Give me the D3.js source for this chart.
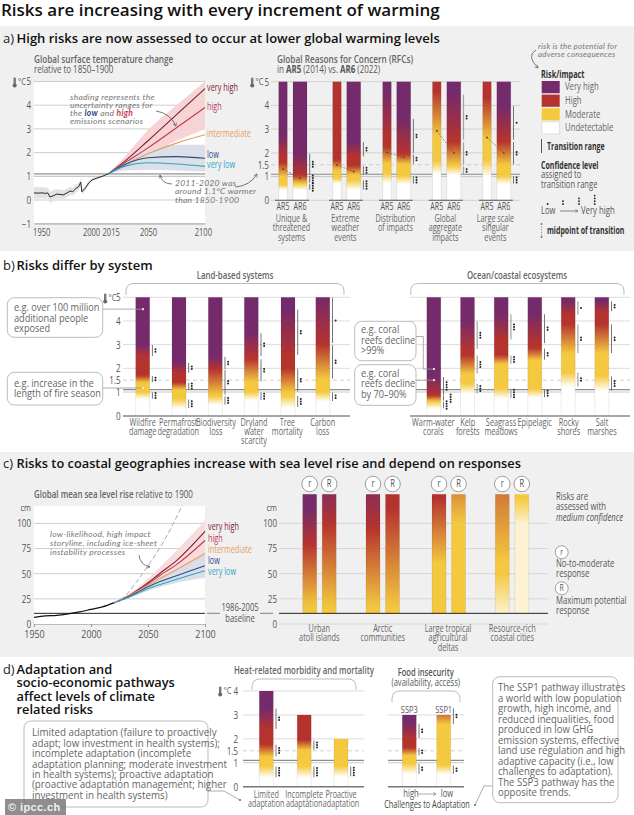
<!DOCTYPE html>
<html><head><meta charset="utf-8">
<script src="https://cdn.jsdelivr.net/npm/d3@7/dist/d3.min.js"></script>
<style>
html,body{margin:0;padding:0;background:#fff}
svg{display:block}
text{font-family:"Open Sans",sans-serif;fill:#555}
.head{font-family:"Open Sans",sans-serif;fill:#111;font-weight:600}
.hand{font-family:"Lato",sans-serif;font-style:italic;fill:#777;letter-spacing:.25px}
.tick text{font-size:10.5px;fill:#555}
</style></head><body>
<svg id="c" width="634" height="815" viewBox="0 0 634 815"></svg>
<script>
/* ---------- DATA (°C or cm; [low, high, confidence dots]) ---------- */
const riskLevels=["Very high","High","Moderate","Undetectable"];
const tempYears=[1950,1953,1957,1960,1962,1964,1967,1970,1973,1976,1979,1982,1984,1987,1989,1991,1992,1995,1998,2001,2005,2010,2015];
const tempHist=[.3,.29,.3,.28,.3,.13,.18,.25,.23,.22,.3,.38,.35,.5,.55,.75,.35,.5,.72,.85,.92,1.0,1.1];
const tempHistLow=[.05,.05,.07,.05,.07,-.12,-.05,.05,.05,.05,.12,.2,.2,.33,.4,.6,.25,.4,.62,.78,.87,.97,1.1];
const tempHistHigh=[.55,.55,.55,.52,.53,.37,.42,.45,.42,.42,.48,.56,.52,.67,.7,.88,.47,.6,.8,.92,.97,1.03,1.1];
const projYears=[2015,2030,2050,2075,2100];
const tempVeryHigh=[1.1,1.65,2.5,3.6,4.7];
const tempHigh=[1.1,1.58,2.2,3.05,3.9];
const tempInter=[1.1,1.5,1.95,2.4,2.75];
const tempLow=[1.1,1.5,1.78,1.83,1.76];
const tempVeryLow=[1.1,1.43,1.57,1.52,1.42];
const tempPinkUp=[1.1,1.85,2.95,4.0,5.0];
const tempPinkLow=[1.1,1.42,1.9,2.5,3.0];
const tempBlueUp=[1.1,1.6,2.05,2.33,2.33];
const tempBlueLow=[1.1,1.25,1.28,1.25,1.2];

const seaYears=[1950,1960,1970,1980,1990,2000,2010,2020];
const seaHist=[6.5,8,8.5,10,12,14.5,17,21];
const seaProjYears=[2020,2030,2040,2050,2060,2075,2100];
const seaVeryHigh=[21,26,33,41,50,63,92];
const seaHigh=[21,26,32.5,40,48,59,83];
const seaInter=[21,26,32,38.5,45,54,70];
const seaLow=[21,25.5,31,37,42,48,58];
const seaVeryLow=[21,25,30,35,39,44.5,53];
const seaPinkUp=[21,27,35,45,56,73,103];
const seaPinkLow=[21,25.5,31,37.5,43,51,65];
const seaBlueUp=[21,26,32,39,46,55,70];
const seaBlueLow=[21,24.5,28.5,33,36.5,41,46];
const stormYears=[2020,2030,2040,2050,2060,2070,2080];
const stormValues=[21,28,42,58,75,95,118];

const rfcNames=["Unique & threatened systems","Extreme weather events","Distribution of impacts","Global aggregate impacts","Large scale singular events"];
const rfcAR5=[
 [[.45,.65],[1.0,1.6],[1.9,2.7]],
 [[.72,.93],[1.28,1.7],null],
 [[.72,1.14],[1.55,2.25],[2.7,4.6]],
 [[1.1,1.65],[2.7,4.6],null],
 [[1.0,1.7],[2.55,4.3],null]];
const rfcAR6=[
 [[.43,.7,4],[.72,1.05,4],[1.07,1.98,3]],
 [[.43,.86,4],[1.07,1.46,3],[1.84,2.47,2]],
 [[.69,1.03,3],[1.53,1.95,2],[1.98,3.45,2]],
 [[1.07,1.45,2],[1.49,2.47,2],[2.54,4.47,2]],
 [[.69,1.03,3],[1.49,2.47,2],[2.54,3.99,1]]];
const rfcMidAR5=[1.32,1.49,2.02,2.93,2.65];
const rfcMidAR6=[.93,1.21,1.81,2.0,2.0];

const landNames=["Wildfire damage","Permafrost degradation","Biodiversity loss","Dryland water scarcity","Tree mortality","Carbon loss"];
const landRisks=[
 [[.7,1.0,3],[1.4,1.7,2],[2.5,3.0,2]],
 [[.3,.7,3],[1.1,1.4,3],[1.8,2.25,2]],
 [[.45,.83,3],[.87,1.95,2],[1.95,2.5,2]],
 [[.65,1.0,3],[1.43,2.4,2],[2.5,3.5,2]],
 [[.35,.85,3],[1.0,2.0,2],[2.55,4.5,2]],
 [[.6,1.0,2],[1.55,3.0,2],[3.05,5,1]]];
const oceanNames=["Warm-water corals","Kelp forests","Seagrass meadows","Epipelagic","Rocky shores","Salt marshes"];
const oceanRisks=[
 [[.3,.6,4],[.62,.85,4],[.85,1.65,4]],
 [[.92,1.37,3],[1.76,2.56,3],[2.8,4,3]],
 [[.73,1.15,4],[2.18,2.56,3],[3.2,4.3,3]],
 [[.76,1.13,3],[2.35,2.85,2],[3.05,4.3,2]],
 [[1.22,1.83,2],[2.63,3.87,2],[4.25,4.85,1]],
 [[1.04,1.68,3],[2.63,3.87,2],[4.4,4.85,2]]];
const calloutValues=[4.5,1.17,1.97,1.5];

const coastNames=["Urban atoll islands","Arctic communities","Large tropical agricultural deltas","Resource-rich coastal cities"];
const coastResponses=["r","R"];
/* [cm, risk level 0=undetectable ... 3=very high] */
const coastStops=[
 [[[12,1],[20,1.05],[80,2],[115,3]],[[12,1],[20,1.05],[100,2],[145,3]]],
 [[[12,1],[20,1.05],[95,2],[150,3]],[[12,1],[20,1.05],[115,2]]],
 [[[12,1],[60,1],[125,2]],[[12,1],[100,1],[175,2]]],
 [[[10,.25],[50,1],[60,1],[190,2]],[[10,.22],[100,.25],[125,1]]]];

const heatNames=["Limited adaptation","Incomplete adaptation","Proactive adaptation"];
const heatTops=[4,3,2];
const heatRisks=[
 [[.38,.86,4],[1.25,1.77,3],[2.4,3.28,2]],
 [[.38,.86,4],[1.53,1.95,3],null],
 [[.42,.86,4],null,null]];
const foodNames=["SSP3","SSP1"];
const foodTops=[3,3];
const foodRisks=[
 [[.52,.98,2],[1.3,1.63,2],[2.02,2.65,2]],
 [[.52,.9,2],[2.6,3.3,2],null]];
const paleRangeSystems=["Global aggregate impacts","Kelp forests","Seagrass meadows","Rocky shores"];

/* ---------- SCAFFOLD ---------- */
const svg=d3.select("#c");
const defs=svg.append("defs");
defs.append("marker").attr("id","arr").attr("viewBox","0 0 8 8").attr("refX",6).attr("refY",4)
 .attr("markerWidth",6).attr("markerHeight",6).attr("orient","auto")
 .append("path").attr("d","M1,1L6,4L1,7").attr("fill","none").attr("stroke","#555").attr("stroke-width",1);
const riskColor=d3.scaleLinear().domain([0,1,2,3]).range(["#ffffff","#f4c93f","#b5332e","#752a6b"]);
let gid=0;

function txt(g,x,y,lines,o={}){
 const isFull=o.cl==="head"||o.cl==="hand";
 const k=o.k||(isFull?1:(o.w?.73:.76));
 const size=o.s||(o.cl==="hand"?8.5:10.2);
 const t=g.append("text").attr("x",x).attr("y",y).attr("text-anchor",o.a||"start")
  .style("font-size",size+"px");
 if(k!==1)t.attr("transform",`translate(${x},0) scale(${k},1) translate(${-x},0)`);
 if(o.cl)t.attr("class",o.cl);
 if(o.fill)t.style("fill",o.fill);
 if(o.w)t.style("font-weight",o.w);
 if(o.i)t.style("font-style","italic");
 if(o.ff)t.style("font-family",o.ff);
 [].concat(lines).forEach((l,i)=>t.append("tspan").attr("x",x).attr("dy",i?(o.lh||9.5):0).text(l));
 return t;
}
const squeeze=(sel,k)=>sel.selectAll("text").attr("transform",`scale(${k||.77},1)`);
function grid(g,y,x0,x1,vals,col){
 g.selectAll(null).data(vals).join("line").attr("x1",x0).attr("x2",x1)
  .attr("y1",d=>y(d)).attr("y2",d=>y(d)).attr("stroke",col||"#cfcfcf").attr("stroke-width",1);
}
function refLines(g,y,x0,x1){
 g.append("line").attr("x1",x0).attr("x2",x1).attr("y1",y(1.5)).attr("y2",y(1.5))
  .attr("stroke","#c6c6c6").attr("stroke-width",.8).attr("stroke-dasharray","4 3");
 g.append("line").attr("x1",x0).attr("x2",x1).attr("y1",y(1.1)).attr("y2",y(1.1))
  .attr("stroke","#8d8d8d").attr("stroke-width",1.1);
 g.append("line").attr("x1",x0).attr("x2",x1).attr("y1",y(1)).attr("y2",y(1))
  .attr("stroke","#bdbdbd").attr("stroke-width",.8);
}
function yAxis(g,y,xp,vals){
 const a=g.append("g").attr("transform",`translate(${xp},0)`)
  .call(d3.axisLeft(y).tickValues(vals).tickSize(0).tickPadding(0).tickFormat(d=>String(d).replace("-","−")));
 a.select(".domain").remove();
 squeeze(a);
 return a;
}
function thermo(g,x,yy){
 g.append("rect").attr("x",x).attr("y",yy-4.5).attr("width",2.4).attr("height",7).attr("rx",1.1).attr("fill","#777");
 g.append("circle").attr("cx",x+1.2).attr("cy",yy+3.4).attr("r",2).attr("fill","#666");
 txt(g,x+4.5,yy+3.5,"°C",{s:9.8});
}
function stopsFromRanges(r){
 const s=[];
 r.forEach((t,i)=>{if(t){s.push([t[0],i],[t[1],i+1]);}});
 return s;
}
function riskBar(g,cx,w,y,bottom,top,stops){
 const id="g"+(gid++);
 const lvl=d3.scaleLinear().domain(stops.map(d=>d[0])).range(stops.map(d=>d[1])).clamp(true);
 const gr=defs.append("linearGradient").attr("id",id).attr("gradientUnits","userSpaceOnUse")
  .attr("x1",0).attr("x2",0).attr("y1",y(bottom)).attr("y2",y(top));
 d3.range(0,1.0001,1/60).forEach(t=>{
  gr.append("stop").attr("offset",t).attr("stop-color",riskColor(lvl(bottom+(top-bottom)*t)));
 });
 g.append("rect").attr("x",cx-w/2).attr("width",w).attr("y",y(top)).attr("height",y(bottom)-y(top))
  .attr("fill",`url(#${id})`);
 [cx-w/2,cx+w/2].forEach(x=>g.append("line").attr("x1",x).attr("x2",x).attr("y1",y(top)).attr("y2",y(bottom))
  .attr("stroke","#000").attr("stroke-opacity",.13).attr("stroke-width",.6));
}
function confRanges(g,xr,y,ranges,shift,pale){
 ranges.forEach((t,i)=>{
  if(!t||!t[2])return;
  const sx=shift?shift[i]:0;
  g.append("line").attr("x1",xr+2.7).attr("x2",xr+2.7).attr("y1",y(t[1])+.4).attr("y2",y(t[0])-.4)
   .attr("stroke",pale?"#a4a4a4":"#666").attr("stroke-width",pale?1.2:.9);
  const my=y((t[0]+t[1])/2);
  d3.range(t[2]).forEach(k=>g.append("circle").attr("cx",xr+5.8+sx).attr("cy",my+(k-(t[2]-1)/2)*2.5)
   .attr("r",1).attr("fill","#222"));
 });
}
function bracket(g,x0,x1,yt,yb){
 g.append("path").attr("d",`M${x0},${yb}V${yt+8}Q${x0},${yt} ${x0+8},${yt}H${x1-8}Q${x1},${yt} ${x1},${yt+8}V${yb}`)
  .attr("fill","none").attr("stroke","#aaa").attr("stroke-width",.8);
}
function box(g,x,y,w,h,lines,tx,ty,lh,k){
 const b=g.append("g").attr("class","box");
 b.append("rect").attr("x",x).attr("y",y).attr("width",w).attr("height",h).attr("rx",7)
  .attr("fill","#fff").attr("stroke","#aaa").attr("stroke-width",.8);
 txt(b,tx,ty,lines,{s:10.4,lh:lh||10.5,k:k||.88,fill:"#666"});
}
function arrowPath(g,d){
 g.append("path").attr("d",d).attr("fill","none").attr("stroke","#555").attr("stroke-width",.8).attr("marker-end","url(#arr)");
}

/* ---------- BACKGROUND & HEADINGS ---------- */
svg.append("rect").attr("x",0).attr("y",26).attr("width",634).attr("height",225).attr("fill","#f0f0f0");
svg.append("rect").attr("x",0).attr("y",452).attr("width",634).attr("height",205).attr("fill","#f0f0f0");
txt(svg,1,15.5,"Risks are increasing with every increment of warming",{cl:"head",s:17});
function head(y,tag,lines,s){
 txt(svg,3,y,tag,{s:s,k:1,fill:"#222"});
 return txt(svg,16.5,y,lines,{cl:"head",s:s,lh:13.3});
}
head(43,"a)","High risks are now assessed to occur at lower global warming levels",13);
head(270,"b)","Risks differ by system",13);
head(468,"c)","Risks to coastal geographies increase with sea level rise and depend on responses",12.8);
head(674,"d)",["Adaptation and","socio-economic pathways","affect levels of climate","related risks"],12.8);

/* ---------- a) temperature ---------- */
const A=svg.append("g");
A.append("rect").attr("x",34).attr("y",81.5).attr("width",171).attr("height",142).attr("fill","#fff");
const yT=d3.scaleLinear().domain([0,5]).range([200,81.5]);
const xT=d3.scaleLinear().domain([1950,2100]).range([34,205]);
grid(A,yT,34,205,[-1,0,2,3,4,5]);
const tArea=(lo,hi,xs)=>d3.area().x((d,i)=>xT(xs[i])).y0((d,i)=>yT(lo[i])).y1((d,i)=>yT(hi[i])).curve(d3.curveMonotoneX)(xs);
A.append("path").attr("d",tArea(tempHistLow,tempHistHigh,tempYears)).attr("fill","#e3e3e3");
A.append("path").attr("d",tArea(tempPinkLow,tempPinkUp,projYears)).attr("fill","#f6d3d5");
A.append("path").attr("d",tArea(tempBlueLow,tempBlueUp,projYears)).attr("fill","#dadfe8");
A.append("line").attr("x1",34).attr("x2",205).attr("y1",yT(1.1)).attr("y2",yT(1.1)).attr("stroke","#777").attr("stroke-width",1);
A.append("line").attr("x1",34).attr("x2",205).attr("y1",yT(1)).attr("y2",yT(1)).attr("stroke","#aaa").attr("stroke-width",.8);
const tLine=d3.line().x((d,i)=>xT(projYears[i])).y(d=>yT(d)).curve(d3.curveMonotoneX);
const scenarioNames=["very high","high","intermediate","low","very low"];
const scenarioColors=["#7b2132","#c23a50","#e3a062","#2f4a7f","#2fa4c4"];
[tempVeryHigh,tempHigh,tempInter,tempLow,tempVeryLow].forEach((s,i)=>
 A.append("path").attr("d",tLine(s)).attr("fill","none").attr("stroke",scenarioColors[i]).attr("stroke-width",1.1));
A.append("path").attr("d",d3.line().x((d,i)=>xT(tempYears[i])).y(d=>yT(d))(tempHist)).attr("fill","none").attr("stroke","#111").attr("stroke-width",.9);
yAxis(A,yT,31,[-1,0,1,2,3,4,5]);
thermo(A,13.5,82);
const xa=A.append("g").attr("transform","translate(0,223.5)").call(d3.axisBottom(xT).tickValues([1950,2000,2015,2050,2100]).tickSize(0).tickPadding(5).tickFormat(d3.format("d")));
xa.select(".domain").attr("stroke","#aaa");
squeeze(xa,.72);
xa.selectAll("text").attr("dx",d=>d===1950?10:d===2100?-3:d===2015?3.5:0);
[88,107,134.5,155.5,165].forEach((yy,i)=>txt(A,207,yy+3,scenarioNames[i],{s:10,fill:scenarioColors[i],k:.73}));
txt(A,34,63,"Global surface temperature change",{s:10.2,w:600,fill:"#666",k:.8});
txt(A,34,73.5,"relative to 1850–1900",{s:10.2,k:.78});
txt(A,70,100,["shading represents the","uncertainty ranges for"],{cl:"hand",lh:8.1});
const sh2=A.append("text").attr("class","hand").attr("x",70).attr("y",116).style("font-size","8.5px");
sh2.append("tspan").text("the ");
sh2.append("tspan").text("low").style("fill","#2f4a7f").style("font-weight",700);
sh2.append("tspan").text(" and ");
sh2.append("tspan").text("high").style("fill","#c23a50").style("font-weight",700);
txt(A,70,124,"emissions scenarios",{cl:"hand"});
arrowPath(A,"M156,111Q170,113 176,126");
txt(A,175,186,["2011-2020 was","around 1.1°C warmer","than 1850-1900"],{cl:"hand",lh:8.4});
arrowPath(A,"M172,184Q162,184 160,175");
arrowPath(A,"M235,187Q250,186 257,174");

/* ---------- a) RFCs ---------- */
const R=svg.append("g");
const yR=d3.scaleLinear().domain([0,5]).range([200.3,81.7]);
grid(R,yR,271,520,[0,2,3,4,5],"#d2d2d2");
refLines(R,yR,271,520);
yAxis(R,yR,269,[0,1,1.5,2,3,4,5]);
thermo(R,251,82);
const xAR5=d3.scaleOrdinal().domain(rfcNames).range([283,337,387,436.8,487]);
const xAR6=d3.scaleOrdinal().domain(rfcNames).range([300,353.7,403.7,453.8,503.8]);
const rfcLines=[["Unique &","threatened","systems"],["Extreme","weather","events"],["Distribution","of impacts"],["Global","aggregate","impacts"],["Large scale","singular","events"]];
rfcNames.forEach((n,i)=>{
 riskBar(R,xAR5(n),8.6,yR,0,5,stopsFromRanges(rfcAR5[i]));
 riskBar(R,xAR6(n),14,yR,0,5,stopsFromRanges(rfcAR6[i]));
 R.append("line").attr("x1",xAR5(n)-8).attr("x2",xAR6(n)+9).attr("y1",yR(0)).attr("y2",yR(0)).attr("stroke","#555").attr("stroke-width",1.1);
 confRanges(R,xAR6(n)+7,yR,rfcAR6[i],null,paleRangeSystems.includes(n));
 R.append("line").attr("x1",xAR5(n)).attr("x2",xAR6(n)).attr("y1",yR(rfcMidAR5[i])).attr("y2",yR(rfcMidAR6[i]))
  .attr("stroke","#6a4a3a").attr("stroke-width",.6).attr("stroke-dasharray","2 1.4");
 [[xAR5(n),rfcMidAR5[i]],[xAR6(n),rfcMidAR6[i]]].forEach(p=>R.append("circle").attr("cx",p[0]).attr("cy",yR(p[1])).attr("r",1).attr("fill","#6a4a3a"));
 txt(R,xAR5(n),210.5,"AR5",{a:"middle",s:10.2,k:.7});
 txt(R,xAR6(n),210.5,"AR6",{a:"middle",s:10.2,k:.7});
 txt(R,(xAR5(n)+xAR6(n))/2,222,rfcLines[i],{a:"middle",s:10,lh:9.5,fill:"#666",k:.72});
});
txt(R,277,63,"Global Reasons for Concern (RFCs)",{s:10.2,w:600,fill:"#666",k:.81});
const rft=R.append("text").attr("x",277).attr("y",73.5).style("font-size","10.2px").attr("transform","translate(277,0) scale(.78,1) translate(-277,0)");
rft.append("tspan").text("in ");rft.append("tspan").text("AR5").style("font-weight",700);
rft.append("tspan").text(" (2014) vs. ");rft.append("tspan").text("AR6").style("font-weight",700);rft.append("tspan").text(" (2022)");

/* legend */
const L=svg.append("g");
txt(L,538,49,["risk is the potential for","adverse consequences"],{cl:"hand",lh:8.2,s:7.9});
arrowPath(L,"M536,50Q526,56 538,68");
txt(L,541,78,"Risk/impact",{s:10,w:700,fill:"#333"});
const swatch=d3.scaleBand().domain(riskLevels).range([81,134]).paddingInner(.1);
const levelIndex=d3.scaleOrdinal().domain(riskLevels).range([3,2,1,0]);
riskLevels.forEach(n=>{
 L.append("rect").attr("x",541.7).attr("width",18).attr("y",swatch(n)).attr("height",swatch.bandwidth())
  .attr("fill",riskColor(levelIndex(n))).attr("stroke",n==="Undetectable"?"#ddd":"none");
 txt(L,565,swatch(n)+swatch.bandwidth()/2+3.3,n,{s:10.2,fill:"#666"});
});
L.append("line").attr("x1",541.5).attr("x2",541.5).attr("y1",139).attr("y2",153).attr("stroke","#555");
txt(L,547,150,"Transition range",{s:10,w:700,fill:"#333",k:.7});
txt(L,541,169,"Confidence level",{s:10,w:700,fill:"#333",k:.7});
txt(L,541,178.5,["assigned to","transition range"],{s:10,lh:9.3});
[[547.7,1],[563,2],[579,3],[594.7,4]].forEach(([x,n])=>d3.range(n).forEach(k=>L.append("circle").attr("cx",x).attr("cy",204-k*2.8).attr("r",.9).attr("fill","#222")));
txt(L,541,214,"Low",{s:10});
L.append("line").attr("x1",560).attr("x2",578).attr("y1",211).attr("y2",211).attr("stroke","#555").attr("stroke-width",.7).attr("marker-end","url(#arr)");
txt(L,581,214,"Very high",{s:10.2});
L.append("line").attr("x1",541.5).attr("x2",541.5).attr("y1",224).attr("y2",237).attr("stroke","#555").attr("stroke-width",.8).attr("stroke-dasharray","1 1.6");
L.selectAll(null).data([224,237]).join("circle").attr("cx",541.5).attr("cy",d=>d).attr("r",1).attr("fill","#777");
txt(L,547,234,"midpoint of transition",{s:10,w:700,fill:"#333",k:.7});

/* ---------- b) systems ---------- */
const B=svg.append("g");
const yB=d3.scaleLinear().domain([0,5]).range([415.7,297.3]);
const bGroups=[
 {x0:123,x1:350,names:landNames,risks:landRisks,centers:[142.7,179,215.3,251.3,288,322.8],labels:[142.7,178.3,216,254,287.3,322.7]},
 {x0:410,x1:630,names:oceanNames,risks:oceanRisks,centers:[433.8,467.5,501.2,534.8,568.2,601.8],labels:[433.3,467.7,501,534.7,568.7,602]}];
const bLines={"Wildfire damage":["Wildfire","damage"],"Permafrost degradation":["Permafrost","degradation"],"Biodiversity loss":["Biodiversity","loss"],"Dryland water scarcity":["Dryland","water","scarcity"],"Tree mortality":["Tree","mortality"],"Carbon loss":["Carbon","loss"],
 "Warm-water corals":["Warm-water","corals"],"Kelp forests":["Kelp","forests"],"Seagrass meadows":["Seagrass","meadows"],"Epipelagic":["Epipelagic"],"Rocky shores":["Rocky","shores"],"Salt marshes":["Salt","marshes"]};
const bShift={"Warm-water corals":[0,4,0]};
bGroups.forEach(G=>{
 const x=d3.scaleOrdinal().domain(G.names).range(G.centers);
 const xl=d3.scaleOrdinal().domain(G.names).range(G.labels);
 grid(B,yB,G.x0,G.x1,[2,3,4,5],"#dcdcdc");
 refLines(B,yB,G.x0,G.x1);
 G.names.forEach((n,i)=>{
  riskBar(B,x(n),14,yB,0,5,stopsFromRanges(G.risks[i]));
  confRanges(B,x(n)+7,yB,G.risks[i],bShift[n],paleRangeSystems.includes(n));
  txt(B,xl(n),425.7,bLines[n],{a:"middle",s:10.2,lh:9.4,fill:"#666",k:.72});
 });
 B.append("line").attr("x1",G.x0).attr("x2",G.x1).attr("y1",yB(0)+.3).attr("y2",yB(0)+.3).attr("stroke","#888").attr("stroke-width",1.6);
});
yAxis(B,yB,120.7,[0,1,1.5,2,3,4,5]);
thermo(B,104,298);
bracket(B,126,344,283.5,295);bracket(B,410.7,624,283.5,295);
txt(B,235,279,"Land-based systems",{a:"middle",s:10.2,w:600,fill:"#666",k:.77});
txt(B,517,279,"Ocean/coastal ecosystems",{a:"middle",s:10.2,w:600,fill:"#666",k:.77});
box(B,7.3,297.7,95.4,39.6,["e.g. over 100 million","additional people","exposed"],14,311.5);
box(B,7.3,372.3,95.4,32.7,["e.g. increase in the","length of fire season"],14,387);
box(B,354.7,321.3,61.3,39.4,["e.g. coral","reefs decline",">99%"],361,333.5);
box(B,354.7,364.7,61.3,40.6,["e.g. coral","reefs decline","by 70–90%"],361,377);
const lead=(g,d)=>g.append("path").attr("d",d).attr("fill","none").attr("stroke","#999").attr("stroke-width",.8);
lead(B,`M102.7,${yB(calloutValues[0])}H143`);
lead(B,`M102.7,${yB(calloutValues[1])}H143`);
lead(B,`M416,336.5H423.3V${yB(calloutValues[2])}H434`);
lead(B,`M416,${yB(calloutValues[3])}H434`);
[[143,calloutValues[0]],[143,calloutValues[1]],[434,calloutValues[2]],[434,calloutValues[3]]].forEach(p=>
 B.append("circle").attr("cx",p[0]).attr("cy",yB(p[1])).attr("r",1.1).attr("fill","#eee"));

/* ---------- c) sea level ---------- */
const C=svg.append("g");
C.append("rect").attr("x",34).attr("y",506).attr("width",171).attr("height",118).attr("fill","#fff");
const yS=d3.scaleLinear().domain([0,100]).range([624,523.4]);
const xS=d3.scaleLinear().domain([1950,2100]).range([34,205]);
grid(C,yS,34,205,[25,50,75,100]);
const sArea=(lo,hi)=>d3.area().x((d,i)=>xS(seaProjYears[i])).y0((d,i)=>yS(lo[i])).y1((d,i)=>yS(hi[i])).curve(d3.curveMonotoneX)(seaProjYears);
C.append("path").attr("d",sArea(seaPinkLow,seaPinkUp)).attr("fill","#f8dcdc");
C.append("path").attr("d",sArea(seaBlueLow,seaBlueUp)).attr("fill","#d9dee8");
C.append("line").attr("x1",34).attr("x2",205).attr("y1",yS(10.6)).attr("y2",yS(10.6)).attr("stroke","#222").attr("stroke-width",1);
const sLine=d3.line().x((d,i)=>xS(seaProjYears[i])).y(d=>yS(d)).curve(d3.curveMonotoneX);
[seaVeryHigh,seaHigh,seaInter,seaLow,seaVeryLow].forEach((s,i)=>
 C.append("path").attr("d",sLine(s)).attr("fill","none").attr("stroke",scenarioColors[i]).attr("stroke-width",1.1));
C.append("path").attr("d",d3.line().x((d,i)=>xS(seaYears[i])).y(d=>yS(d)).curve(d3.curveMonotoneX)(seaHist)).attr("fill","none").attr("stroke","#111").attr("stroke-width",1.2);
C.append("path").attr("d",d3.line().x((d,i)=>xS(stormYears[i])).y(d=>yS(d)).curve(d3.curveMonotoneX)(stormValues)).attr("fill","none").attr("stroke","#aaa").attr("stroke-width",1).attr("stroke-dasharray","5 2.5");
yAxis(C,yS,31,[0,25,50,75,100]);
txt(C,31,511,"cm",{a:"end",s:9.8});
const xc=C.append("g").attr("transform","translate(0,624)").call(d3.axisBottom(xS).tickValues([1950,2000,2050,2100]).tickSize(3).tickPadding(4).tickFormat(d3.format("d")));
xc.select(".domain").attr("stroke","#bbb");xc.selectAll("line").attr("stroke","#999");
squeeze(xc,.85);
[527.3,538.7,550,560.7,571.7].forEach((yy,i)=>txt(C,208,yy+3,scenarioNames[i],{s:10,fill:scenarioColors[i],k:.73}));
txt(C,240,611.5,"1986-2005",{a:"middle",s:10});
txt(C,240,622,"baseline",{a:"middle",s:10});
[[207,220],[260,273]].forEach(p=>C.append("line").attr("x1",p[0]).attr("x2",p[1]).attr("y1",613.3).attr("y2",613.3).attr("stroke","#666").attr("stroke-width",.8));
const ct=C.append("text").attr("x",34).attr("y",498).style("font-size","10.2px").attr("transform","translate(34,0) scale(.78,1) translate(-34,0)");
ct.append("tspan").text("Global mean sea level rise").style("font-weight",600).style("fill","#666");
ct.append("tspan").text(" relative to 1900");
txt(C,50,537,["low-likelihood, high impact","storyline, including ice-sheet","instability processes"],{cl:"hand",lh:8.8});
arrowPath(C,"M139,555Q140,565 150,567");

const D=svg.append("g");
grid(D,yS,279,548,[0,25,50,75,100],"#d6d6d6");
yAxis(D,yS,277,[0,25,50,75,100]);
txt(D,277,511,"cm",{a:"end",s:9.8});
const xCoast=d3.scaleOrdinal().domain(coastNames).range([309.7,373,439,502.3]);
const coastLines=[["Urban","atoll islands"],["Arctic","communities"],["Large tropical","agricultural","deltas"],["Resource-rich","coastal cities"]];
const coastOffsets=[0,19.5];
const coastLabelDx=[9.6,9.7,9,10];
coastNames.forEach((n,i)=>{
 coastResponses.forEach((r,j)=>{
  const cx=xCoast(n)+coastOffsets[j];
  riskBar(D,cx,14,yS,10.6,129,coastStops[i][j]);
  D.append("circle").attr("cx",cx).attr("cy",484).attr("r",7.8).attr("fill","#fff").attr("stroke","#888").attr("stroke-width",.8);
  txt(D,cx,487.5,r,{a:"middle",s:10,fill:"#555"});
 });
 txt(D,xCoast(n)+coastLabelDx[i],632,coastLines[i],{a:"middle",s:10.2,lh:9.4,fill:"#666",k:.72});
});
D.append("line").attr("x1",279).attr("x2",548).attr("y1",yS(10.6)).attr("y2",yS(10.6)).attr("stroke","#222").attr("stroke-width",1);
txt(D,556,500.5,["Risks are","assessed with"],{s:10.2,lh:10});
txt(D,556,521,"medium confidence",{s:10.2,i:true});
[["r",552.3],["R",588.3]].forEach(p=>{
 D.append("circle").attr("cx",561.7).attr("cy",p[1]).attr("r",6.5).attr("fill","#fff").attr("stroke","#888").attr("stroke-width",.8);
 txt(D,561.7,p[1]+3,p[0],{a:"middle",s:9});
});
txt(D,556,567.5,["No-to-moderate","response"],{s:10.2,lh:9.3});
txt(D,556,604.5,["Maximum potential","response"],{s:10.2,lh:9.3});

/* ---------- d) adaptation ---------- */
const E=svg.append("g");
const yD=d3.scaleLinear().domain([0,4]).range([786.7,691]);
grid(E,yD,243,364,[2,3,4],"#dcdcdc");
refLines(E,yD,243,364);
const xHeat=d3.scaleOrdinal().domain(heatNames).range([266.3,304.2,341]);
heatNames.forEach((n,i)=>{
 riskBar(E,xHeat(n),14,yD,0,heatTops[i],stopsFromRanges(heatRisks[i]));
 confRanges(E,xHeat(n)+7,yD,heatRisks[i]);
 txt(E,xHeat(n),798,n.split(" "),{a:"middle",s:10,lh:9.2,fill:"#666",k:.72});
});
E.append("line").attr("x1",243).attr("x2",364).attr("y1",yD(0)).attr("y2",yD(0)).attr("stroke","#777").attr("stroke-width",1.4);
yAxis(E,yD,238,[0,1,1.5,2,3,4]);
thermo(E,219,691);
bracket(E,252,356,679,690);
txt(E,304,674,"Heat-related morbidity and mortality",{a:"middle",s:9.8,w:600,fill:"#666",k:.8});
grid(E,yD,388,464,[2,3],"#dcdcdc");
refLines(E,yD,388,464);
const xFood=d3.scaleOrdinal().domain(foodNames).range([409.3,443.7]);
foodNames.forEach((n,i)=>{
 riskBar(E,xFood(n),14,yD,0,foodTops[i],stopsFromRanges(foodRisks[i]));
 confRanges(E,xFood(n)+7,yD,foodRisks[i]);
 txt(E,xFood(n),713,n,{a:"middle",s:9.8});
});
E.append("line").attr("x1",388).attr("x2",464).attr("y1",yD(0)).attr("y2",yD(0)).attr("stroke","#777").attr("stroke-width",1.4);
bracket(E,392,460,691,702);
txt(E,425.7,676,"Food insecurity",{a:"middle",s:10.4,w:600,fill:"#555"});
txt(E,425.7,686,"(availability, access)",{a:"middle",s:10});
txt(E,411,797.5,"high",{a:"middle",s:10});
E.append("line").attr("x1",417).attr("x2",436).attr("y1",794).attr("y2",794).attr("stroke","#888").attr("stroke-width",.7).attr("marker-end","url(#arr)");
txt(E,447,797.5,"low",{a:"middle",s:10});
txt(E,427,808,"Challenges to Adaptation",{a:"middle",s:10.2,fill:"#444",k:.72});
box(E,24,721,184,86,["Limited adaptation (failure to proactively","adapt; low investment in health systems);","incomplete adaptation (incomplete","adaptation planning; moderate investment","in health systems); proactive adaptation","(proactive adaptation management; higher","investment in health systems)"],32,736.5,10.4,.94);
box(E,492.7,676.7,125.3,126,["The SSP1 pathway illustrates","a world with low population","growth, high income, and","reduced inequalities, food","produced in low GHG","emission systems, effective","land use regulation and high","adaptive capacity (i.e., low","challenges to adaptation).","The SSP3 pathway has the","opposite trends."],498,691,10.55,.92);
lead(E,"M208,791H224L240,800");
E.append("circle").attr("cx",240).attr("cy",800).attr("r",1).attr("fill","#666");
lead(E,"M492.7,786H484L475,805");
E.append("circle").attr("cx",475).attr("cy",805).attr("r",1).attr("fill","#666");

/* watermark */
svg.append("rect").attr("x",5).attr("y",799).attr("width",61).attr("height",16).attr("fill","#7a7a7a").attr("fill-opacity",.85);
txt(svg,8,811,"© ipcc.ch",{s:11,fill:"#f2f2f2",w:700,k:1,ff:'"Liberation Sans",sans-serif'}).style("letter-spacing",".4px");
</script>
</body></html>
